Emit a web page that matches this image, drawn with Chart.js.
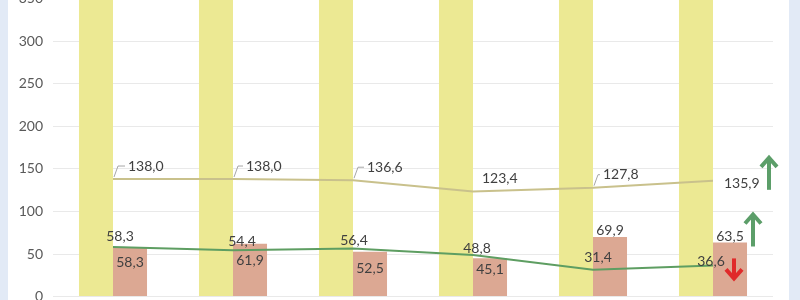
<!DOCTYPE html>
<html>
<head>
<meta charset="utf-8">
<script src="https://cdn.jsdelivr.net/npm/chart.js@4.4.1/dist/chart.umd.min.js"></script>
<style>
  html, body { margin: 0; padding: 0; background: #e2eaf6; }
  #wrap { position: relative; width: 800px; height: 300px; overflow: hidden; background: #e2eaf6; }
  #panel { position: absolute; left: 8px; top: 0; width: 781px; height: 300px; background: #ffffff; }
  #chart { position: absolute; left: 0; top: -20px; }
</style>
</head>
<body>
<div id="wrap">
  <div id="panel"></div>
  <canvas id="chart" width="800" height="335"></canvas>
</div>
<script>
const categories = ["1", "2", "3", "4", "5", "6"];
const totalBars = [400, 400, 400, 400, 400, 400];
const pinkBars = [58.3, 61.9, 52.5, 45.1, 69.9, 63.5];
const tanLine = [138.0, 138.0, 136.6, 123.4, 127.8, 135.9];
const greenLine = [58.3, 54.4, 56.4, 48.8, 31.4, 36.6];
const yTicks = [0, 50, 100, 150, 200, 250, 300, 350];

const fmt = (v) => v.toFixed(1).replace(".", ",");

// label placement (pixel offsets from the mark)
const tanOffsets = [[15, -13, true], [13, -13, true], [14, -13, true], [9, -13, false], [10, -13, true], [11, 3, false]];
const greenOffsets = [[7, -10], [9, -9], [1, -8], [4, -7], [5, -12], [-2, -4]];
const pinkOffsets = [[0, 16], [0, 17], [0, 17], [0, 11], [0, -7], [0, -6]];

const labelPlugin = {
  id: "valueLabels",
  afterDatasetsDraw(chart) {
    const { ctx } = chart;
    const pinkMeta = chart.getDatasetMeta(1);
    const tanMeta = chart.getDatasetMeta(2);
    const greenMeta = chart.getDatasetMeta(3);
    ctx.save();
    ctx.font = "14px Lato";
    ctx.fillStyle = "#404040";
    ctx.textBaseline = "middle";

    // tan line labels with little leader lines
    tanMeta.data.forEach((pt, i) => {
      const [dx, dy, leader] = tanOffsets[i];
      ctx.textAlign = "left";
      ctx.fillText(fmt(tanLine[i]), pt.x + dx, pt.y + dy);
      if (leader) {
        ctx.strokeStyle = "#a6a6a6";
        ctx.lineWidth = 1;
        ctx.beginPath();
        ctx.moveTo(pt.x + 1, pt.y - 2);
        ctx.lineTo(pt.x + 5, pt.y + dy);
        ctx.lineTo(pt.x + dx - 3, pt.y + dy);
        ctx.stroke();
      }
    });

    // green line labels
    ctx.textAlign = "center";
    greenMeta.data.forEach((pt, i) => {
      const [dx, dy] = greenOffsets[i];
      ctx.fillText(fmt(greenLine[i]), pt.x + dx, pt.y + dy);
    });

    // pink bar labels
    pinkMeta.data.forEach((bar, i) => {
      const [dx, dy] = pinkOffsets[i];
      ctx.fillText(fmt(pinkBars[i]), bar.x + dx, bar.y + dy);
    });

    // trend arrows at the last category
    const x = chart.scales.x;
    const y = chart.scales.y;
    const cx = x.getPixelForValue(5);
    const arrow = (ax, top, bottom, up, color) => {
      ctx.strokeStyle = color;
      ctx.lineWidth = 4;
      ctx.beginPath();
      ctx.moveTo(ax, up ? bottom : top);
      ctx.lineTo(ax, up ? top + 3 : bottom - 3);
      ctx.stroke();
      ctx.beginPath();
      if (up) {
        ctx.moveTo(ax - 8, top + 10);
        ctx.lineTo(ax, top + 1);
        ctx.lineTo(ax + 8, top + 10);
      } else {
        ctx.moveTo(ax - 8, bottom - 10);
        ctx.lineTo(ax, bottom - 1);
        ctx.lineTo(ax + 8, bottom - 10);
      }
      ctx.stroke();
    };
    const yTan = y.getPixelForValue(tanLine[5]);
    const yPink = y.getPixelForValue(pinkBars[5]);
    const yGreen = y.getPixelForValue(greenLine[5]);
    arrow(cx + 56, yTan - 24, yTan + 9, true, "#5c9e69");
    arrow(cx + 40, yPink - 29, yPink + 4, true, "#5c9e69");
    arrow(cx + 21, yGreen - 7, yGreen + 14, false, "#e02a2a");
    ctx.restore();
  },
};

new Chart(document.getElementById("chart"), {
  data: {
    labels: categories,
    datasets: [
      {
        type: "bar",
        data: totalBars,
        backgroundColor: "#ece993",
        categoryPercentage: 0.567,
        barPercentage: 1.0,
        order: 2,
      },
      {
        type: "bar",
        data: pinkBars,
        backgroundColor: "#dca893",
        categoryPercentage: 0.567,
        barPercentage: 1.0,
        order: 2,
      },
      {
        type: "line",
        data: tanLine,
        borderColor: "#c9c18c",
        borderWidth: 2,
        pointRadius: 0,
        tension: 0,
        order: 1,
      },
      {
        type: "line",
        data: greenLine,
        borderColor: "#5e9e62",
        borderWidth: 2,
        pointRadius: 0,
        tension: 0,
        order: 0,
      },
    ],
  },
  options: {
    responsive: false,
    animation: false,
    layout: { padding: { left: 8, right: 27, top: 15, bottom: 14 } },
    scales: {
      x: { display: false, offset: true },
      y: {
        min: 0,
        max: 350,
        afterFit: (s) => { s.width = 45; },
        afterBuildTicks: (s) => { s.ticks = yTicks.map((v) => ({ value: v })); },
        ticks: { color: "#595959", font: { family: "Lato", size: 14 }, padding: 10 },
        grid: { color: "#e9e9e9", drawTicks: false },
        border: { display: false },
      },
    },
    plugins: { legend: { display: false }, tooltip: { enabled: false } },
  },
  plugins: [labelPlugin],
});
</script>
</body>
</html>
